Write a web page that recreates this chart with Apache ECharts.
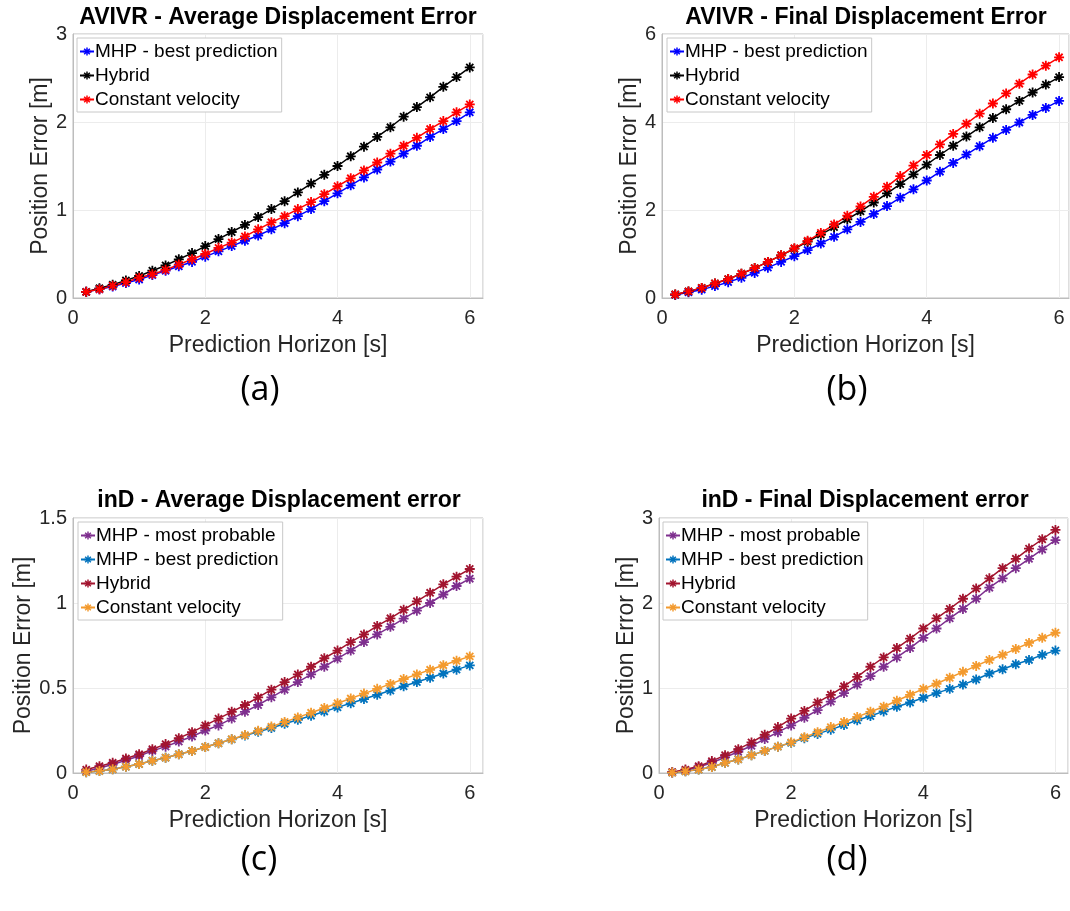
<!DOCTYPE html>
<html>
<head>
<meta charset="utf-8">
<script src="https://cdn.jsdelivr.net/npm/echarts@6/dist/echarts.min.js"></script>
<style>
html,body{margin:0;padding:0;background:#fff;}
#chart{width:1070px;height:911px;}
</style>
</head>
<body>
<div id="chart"></div>
<script>
// ---------- data ----------
const horizon = [0.2,0.4,0.6,0.8,1.0,1.2,1.4,1.6,1.8,2.0,2.2,2.4,2.6,2.8,3.0,3.2,3.4,3.6,3.8,4.0,4.2,4.4,4.6,4.8,5.0,5.2,5.4,5.6,5.8,6.0];

// (a) AVIVR - ADE
const avivrAdeMhpBest = [0.07,0.10,0.13,0.17,0.21,0.26,0.31,0.36,0.41,0.47,0.53,0.59,0.65,0.71,0.78,0.85,0.93,1.01,1.10,1.19,1.28,1.37,1.46,1.55,1.64,1.73,1.83,1.92,2.01,2.11];
const avivrAdeHybrid  = [0.07,0.11,0.15,0.20,0.25,0.31,0.37,0.44,0.51,0.59,0.67,0.75,0.83,0.92,1.01,1.10,1.20,1.30,1.40,1.50,1.61,1.72,1.83,1.94,2.06,2.17,2.28,2.40,2.51,2.62];
const avivrAdeConstVel= [0.07,0.10,0.14,0.18,0.23,0.27,0.32,0.38,0.44,0.50,0.57,0.63,0.70,0.78,0.86,0.93,1.01,1.09,1.18,1.27,1.36,1.45,1.54,1.64,1.73,1.82,1.92,2.01,2.11,2.20];

// (b) AVIVR - FDE
const avivrFdeMhpBest = [0.07,0.13,0.19,0.27,0.36,0.46,0.57,0.69,0.82,0.95,1.09,1.24,1.39,1.56,1.73,1.91,2.09,2.28,2.47,2.67,2.87,3.07,3.26,3.45,3.64,3.82,3.99,4.16,4.32,4.48];
const avivrFdeHybrid  = [0.08,0.15,0.23,0.33,0.43,0.55,0.68,0.82,0.97,1.12,1.28,1.44,1.61,1.79,1.97,2.17,2.38,2.59,2.81,3.03,3.25,3.46,3.67,3.88,4.09,4.29,4.48,4.67,4.85,5.02];
const avivrFdeConstVel= [0.08,0.15,0.23,0.33,0.43,0.55,0.68,0.82,0.97,1.13,1.30,1.48,1.67,1.87,2.08,2.30,2.53,2.77,3.01,3.25,3.49,3.73,3.96,4.19,4.42,4.65,4.87,5.08,5.28,5.47];

// (c) inD - ADE
const indAdeMhpMost   = [0.01,0.03,0.05,0.075,0.10,0.13,0.155,0.185,0.215,0.25,0.28,0.32,0.36,0.40,0.445,0.49,0.535,0.58,0.625,0.673,0.72,0.77,0.815,0.86,0.908,0.955,1.00,1.05,1.10,1.143];
const indAdeMhpBest   = [0.005,0.012,0.022,0.037,0.053,0.072,0.09,0.11,0.13,0.153,0.175,0.198,0.22,0.243,0.265,0.29,0.313,0.337,0.362,0.386,0.41,0.435,0.46,0.485,0.51,0.535,0.56,0.585,0.608,0.633];
const indAdeHybrid    = [0.02,0.04,0.06,0.085,0.11,0.14,0.17,0.205,0.24,0.28,0.32,0.36,0.40,0.445,0.49,0.535,0.58,0.625,0.675,0.72,0.77,0.815,0.865,0.91,0.96,1.01,1.06,1.11,1.155,1.20];
const indAdeConstVel  = [0.005,0.012,0.022,0.037,0.053,0.072,0.09,0.11,0.13,0.153,0.175,0.199,0.223,0.248,0.273,0.30,0.327,0.354,0.382,0.41,0.438,0.467,0.495,0.524,0.553,0.58,0.607,0.634,0.66,0.686];

// (d) inD - FDE
const indFdeMhpMost   = [0.01,0.03,0.07,0.12,0.185,0.25,0.32,0.40,0.48,0.56,0.65,0.74,0.84,0.94,1.04,1.14,1.25,1.36,1.47,1.59,1.70,1.82,1.93,2.05,2.18,2.29,2.41,2.52,2.63,2.74];
const indFdeMhpBest   = [0.005,0.02,0.04,0.07,0.12,0.16,0.21,0.26,0.31,0.355,0.41,0.46,0.51,0.565,0.62,0.67,0.725,0.78,0.83,0.885,0.94,0.99,1.04,1.10,1.17,1.22,1.28,1.33,1.39,1.44];
const indFdeHybrid    = [0.01,0.04,0.08,0.14,0.21,0.28,0.36,0.45,0.54,0.64,0.73,0.83,0.92,1.02,1.13,1.25,1.36,1.47,1.58,1.70,1.82,1.93,2.05,2.17,2.29,2.41,2.52,2.64,2.75,2.86];
const indFdeConstVel  = [0.005,0.02,0.04,0.07,0.12,0.16,0.21,0.26,0.31,0.36,0.42,0.48,0.54,0.60,0.66,0.72,0.78,0.85,0.92,0.99,1.05,1.12,1.19,1.26,1.33,1.39,1.46,1.53,1.59,1.65];

// titles & labels
const panelTitles = ['AVIVR - Average Displacement Error','AVIVR - Final Displacement Error','inD - Average Displacement error','inD - Final Displacement error'];
const panelTags = ['(a)','(b)','(c)','(d)'];
const xAxisName = 'Prediction Horizon [s]';
const yAxisName = 'Position Error [m]';
const yMax = [3, 6, 1.5, 3];
const yInterval = [1, 2, 0.5, 1];
const xTickStep = 2;

// series names
const nMhpBest = 'MHP - best prediction', nMhpMost = 'MHP - most probable', nHybrid = 'Hybrid', nCv = 'Constant velocity';

// ---------- layout ----------
const grids = [
  {left:73, top:34, width:410, height:264},
  {left:662, top:34, width:407, height:264},
  {left:73, top:518, width:410, height:255},
  {left:659, top:518, width:409, height:255}
];
const xMax = [6.2, 6.15, 6.2, 6.19];
const yNameGap = [11, 14, 33, 18];
const titlePos = [[278,18],[866,18],[279,501],[865,501]];
const tagPos = [[260,390],[847,390],[259,860],[847,860]];
const legendPos = [[77,38],[667,38],[78,522],[663,522]];

const FONT = '"Liberation Sans", Arial, Helvetica, sans-serif';
const STAR = 'path://M0 4.1H10V5.9H0Z M4.1 0H5.9V10H4.1Z M2.1 0.8L9.2 7.9L7.9 9.2L0.8 2.1Z M7.9 0.8L9.2 2.1L2.1 9.2L0.8 7.9Z';

function mk(panel, name, color, values) {
  return {
    type: 'line',
    name: panel + '|' + name,
    xAxisIndex: panel, yAxisIndex: panel,
    data: horizon.map((x, i) => [x, values[i]]),
    symbol: STAR, symbolSize: 10,
    showAllSymbol: true,
    lineStyle: {color: color, width: 1.5},
    itemStyle: {color: color},
    emphasis: {disabled: true},
    silent: true,
    animation: false
  };
}

const C = {blue:'#0000ff', black:'#000000', red:'#ff0000',
           purple:'#7E2F8E', lblue:'#0072BD', dred:'#A2142F', orange:'#F39A2E'};

const panelSeries = [
  [[nMhpBest,C.blue,avivrAdeMhpBest],[nHybrid,C.black,avivrAdeHybrid],[nCv,C.red,avivrAdeConstVel]],
  [[nMhpBest,C.blue,avivrFdeMhpBest],[nHybrid,C.black,avivrFdeHybrid],[nCv,C.red,avivrFdeConstVel]],
  [[nMhpMost,C.purple,indAdeMhpMost],[nMhpBest,C.lblue,indAdeMhpBest],[nHybrid,C.dred,indAdeHybrid],[nCv,C.orange,indAdeConstVel]],
  [[nMhpMost,C.purple,indFdeMhpMost],[nMhpBest,C.lblue,indFdeMhpBest],[nHybrid,C.dred,indFdeHybrid],[nCv,C.orange,indFdeConstVel]]
];

const series = [];
const legends = [];
panelSeries.forEach((list, p) => {
  list.forEach(s => series.push(mk(p, s[0], s[1], s[2])));
  legends.push({
    left: legendPos[p][0], top: legendPos[p][1],
    orient: 'vertical',
    data: list.map(s => p + '|' + s[0]),
    formatter: n => n.split('|')[1],
    itemWidth: 14, itemHeight: 10, itemGap: 5,
    padding: [4, 4, 3, 2],
    backgroundColor: '#fff',
    borderColor: '#c8c8c8', borderWidth: 1,
    textStyle: {fontFamily: FONT, fontSize: 19, color: '#000', padding: [0,0,0,-4]},
    selectedMode: false
  });
});

const xAxes = grids.map((g, i) => ({
  type: 'value', gridIndex: i, min: 0, max: xMax[i], interval: xTickStep,
  name: xAxisName, nameLocation: 'middle', nameGap: 36,
  nameTextStyle: {fontFamily: FONT, fontSize: 23, color: '#262626'},
  axisLine: {show: true, onZero: false, lineStyle: {color: '#bdbdbd'}},
  axisTick: {show: false},
  axisLabel: {fontFamily: FONT, fontSize: 20, color: '#262626', margin: 10,
    showMaxLabel: false,
    formatter: v => (Math.abs(v / xTickStep - Math.round(v / xTickStep)) < 1e-6) ? String(v) : ''},
  splitLine: {show: true, lineStyle: {color: '#ececec', width: 1}}
}));

const yAxes = grids.map((g, i) => ({
  type: 'value', gridIndex: i, min: 0, max: yMax[i], interval: yInterval[i],
  name: yAxisName, nameLocation: 'middle', nameGap: yNameGap[i],
  nameTextStyle: {fontFamily: FONT, fontSize: 23, color: '#262626'},
  axisLine: {show: true, lineStyle: {color: '#bdbdbd'}},
  axisTick: {show: false},
  axisLabel: {fontFamily: FONT, fontSize: 20, color: '#262626', margin: 6},
  splitLine: {show: true, lineStyle: {color: '#ececec', width: 1}}
}));

const graphics = [];
panelTitles.forEach((t, i) => graphics.push({
  type: 'text', x: titlePos[i][0], y: titlePos[i][1], silent: true,
  style: {text: t, fontFamily: FONT, fontSize: 23, fontWeight: 'bold', fill: '#000', textAlign: 'center', textVerticalAlign: 'middle'}
}));
panelTags.forEach((t, i) => graphics.push({
  type: 'text', x: tagPos[i][0], y: tagPos[i][1], silent: true,
  style: {text: t, fontFamily: '"Open Sans", "Noto Sans", sans-serif', fontSize: 34, fill: '#000', textAlign: 'center', textVerticalAlign: 'middle'}
}));

const chart = echarts.init(document.getElementById('chart'), null, {renderer: 'canvas'});
chart.setOption({
  backgroundColor: '#fff',
  animation: false,
  grid: grids.map(g => Object.assign({show: true, borderColor: '#bdbdbd', borderWidth: 1, backgroundColor: '#fff', containLabel: false}, g)),
  xAxis: xAxes,
  yAxis: yAxes,
  legend: legends,
  series: series,
  graphic: graphics
});
</script>
</body>
</html>
